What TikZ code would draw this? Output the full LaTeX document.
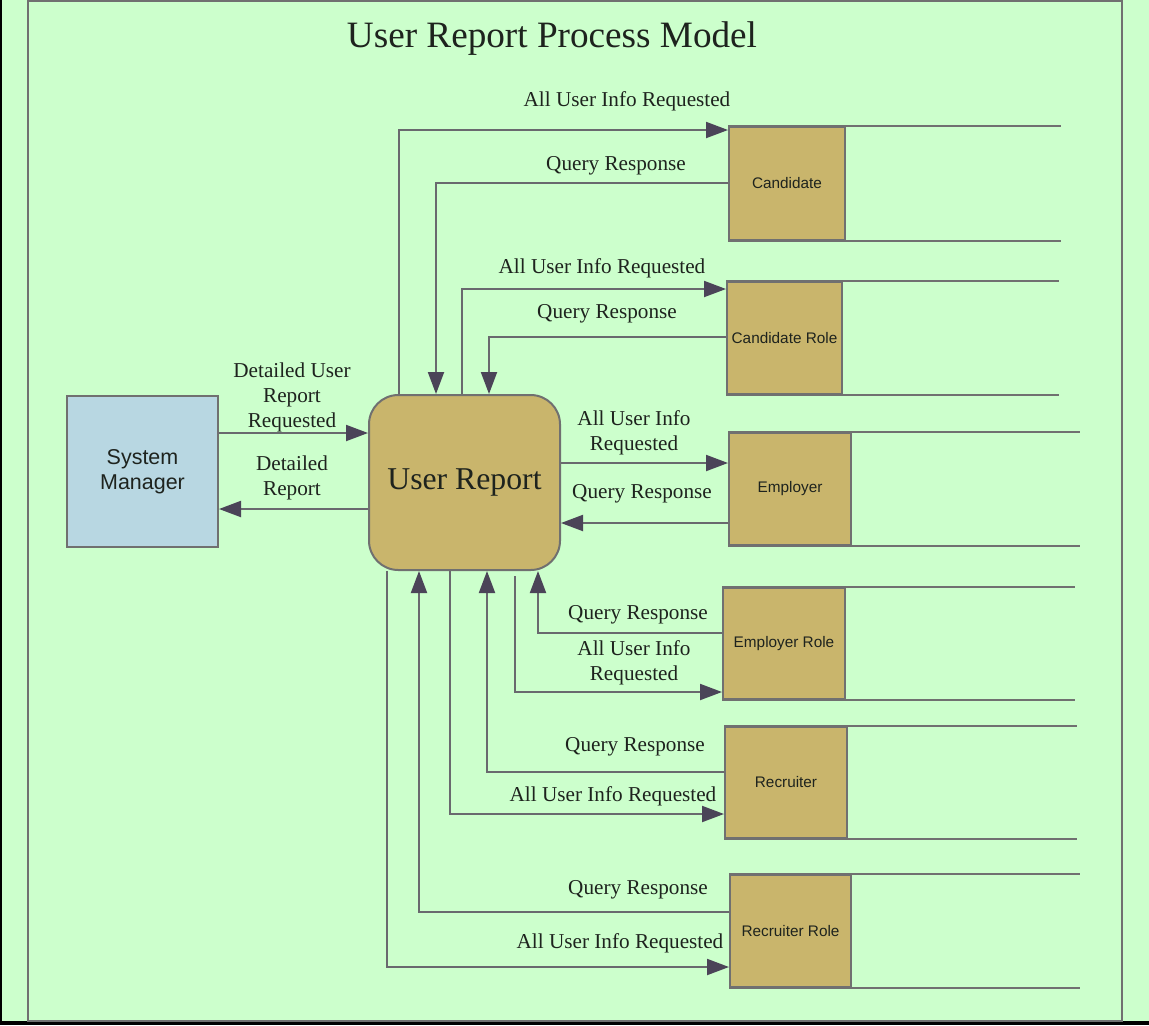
\documentclass[tikz,border=0pt]{standalone}
\usepackage{fontspec}
\setmainfont{Liberation Serif}
\newfontfamily\boxsans{Liberation Sans}
\usetikzlibrary{arrows.meta}
\definecolor{bg}{RGB}{204,255,204}
\definecolor{tanfill}{RGB}{201,181,108}
\definecolor{smblue}{RGB}{184,215,226}
\definecolor{edgec}{RGB}{112,112,112}
\definecolor{linec}{RGB}{105,105,110}
\definecolor{headc}{RGB}{75,68,88}
\definecolor{txt}{RGB}{30,35,30}
\begin{document}
\begin{tikzpicture}[x=0.75pt,y=-0.75pt,
  flow/.style={draw=linec, line width=1.5pt, -{Triangle[length=16.5pt,width=12pt,color=headc]}},
  storebox/.style={draw=edgec, line width=1.5pt, fill=tanfill, inner sep=0pt, text=txt,
     font=\boxsans\fontsize{11.5}{14}\selectfont},
  storeline/.style={draw=edgec, line width=1.5pt},
  lbl/.style={text=txt, align=center, inner sep=0pt, font=\fontsize{15.9}{18.75}\selectfont}
]
\useasboundingbox (0,0) rectangle (1149,1025);
\fill[bg] (0,0) rectangle (1149,1025);
\fill[black] (0,0) rectangle (1.5,1025);
\fill[black] (0,1021) rectangle (1149,1025);
\draw[edgec, line width=1.5pt] (28,0.5) rectangle (1122,1021);

\node[text=txt, inner sep=0pt, font=\fontsize{27.9}{33}\selectfont] (title) at (552,39) {User Report Process Model};

% main process
\node[draw=edgec, line width=1.5pt, fill=tanfill, rounded corners=22pt, minimum width=191*0.75pt, minimum height=175*0.75pt, inner sep=0pt, text=txt, font=\fontsize{23.8}{28}\selectfont] (ur) at (464.5,482.5) {User Report};

% external entity
\node[draw=edgec, line width=1.5pt, fill=smblue, minimum width=151*0.75pt, minimum height=151*0.75pt, inner sep=0pt, align=center, text=txt, font=\boxsans\fontsize{16.1}{19}\selectfont] (sm) at (142.5,471.5) {System\\Manager};

% data stores
\node[storebox, minimum width=116*0.75pt, minimum height=113*0.75pt] (cand) at (787,183.5) {Candidate};
\node[storebox, minimum width=115*0.75pt, minimum height=112*0.75pt] (crole) at (784.5,338) {Candidate Role};
\node[storebox, minimum width=122*0.75pt, minimum height=112*0.75pt] (emp) at (790,489) {Employer};
\node[storebox, minimum width=122*0.75pt, minimum height=111*0.75pt] (erole) at (784,643.5) {Employer Role};
\node[storebox, minimum width=122*0.75pt, minimum height=111*0.75pt] (rec) at (786,782.5) {Recruiter};
\node[storebox, minimum width=121*0.75pt, minimum height=112*0.75pt] (rrole) at (790.5,931) {Recruiter Role};

\draw[storeline] (cand.north west) -- (cand.north west -| 1061,0);
\draw[storeline] (cand.south west) -- (cand.south west -| 1061,0);
\draw[storeline] (crole.north west) -- (crole.north west -| 1059,0);
\draw[storeline] (crole.south west) -- (crole.south west -| 1059,0);
\draw[storeline] (emp.north west) -- (emp.north west -| 1080,0);
\draw[storeline] (emp.south west) -- (emp.south west -| 1080,0);
\draw[storeline] (erole.north west) -- (erole.north west -| 1075,0);
\draw[storeline] (erole.south west) -- (erole.south west -| 1075,0);
\draw[storeline] (rec.north west) -- (rec.north west -| 1077,0);
\draw[storeline] (rec.south west) -- (rec.south west -| 1077,0);
\draw[storeline] (rrole.north west) -- (rrole.north west -| 1080,0);
\draw[storeline] (rrole.south west) -- (rrole.south west -| 1080,0);

% system manager flows
\draw[flow] (sm.east |- 0,433) -- (ur.west |- 0,433);
\draw[flow] (ur.west |- 0,509) -- (sm.east |- 0,509);
\node[lbl] (l1) at (292,397) {Detailed User\\Report\\Requested};
\node[lbl] (l2) at (292,478) {Detailed\\Report};

% candidate
\draw[flow] (ur.north -| 399,0) |- (cand.west |- 0,130);
\draw[flow] (cand.west |- 0,183) -| (ur.north -| 436,0);
\node[lbl] (l3) at (627,101) {All User Info Requested};
\node[lbl] (l4) at (616,166) {Query Response};

% candidate role
\draw[flow] (ur.north -| 462,0) |- (crole.west |- 0,289);
\draw[flow] (crole.west |- 0,337) -| (ur.north -| 489,0);
\node[lbl] (l5) at (602,268) {All User Info Requested};
\node[lbl] (l6) at (607,314) {Query Response};

% employer
\draw[flow] (ur.east |- 0,463) -- (emp.west |- 0,463);
\draw[flow] (emp.west |- 0,523) -- (ur.east |- 0,523);
\node[lbl] (l7) at (634,433) {All User Info\\Requested};
\node[lbl] (l8) at (642,494) {Query Response};

% employer role
\draw[flow] (erole.west |- 0,633) -| (ur.south -| 538,0);
\draw[flow, shorten <=4pt] (ur.south -| 515,0) |- (erole.west |- 0,692);
\node[lbl] (l9) at (638,615) {Query Response};
\node[lbl] (l10) at (634,663) {All User Info\\Requested};

% recruiter
\draw[flow] (rec.west |- 0,772) -| (ur.south -| 487,0);
\draw[flow] (ur.south -| 450,0) |- (rec.west |- 0,814);
\node[lbl] (l11) at (635,747) {Query Response};
\node[lbl] (l12) at (613,796) {All User Info Requested};

% recruiter role
\draw[flow] (rrole.west |- 0,912) -| (ur.south -| 419,0);
\draw[flow] (ur.south -| 387,0) |- (rrole.west |- 0,967);
\node[lbl] (l13) at (638,890) {Query Response};
\node[lbl] (l14) at (620,943) {All User Info Requested};
\end{tikzpicture}
\end{document}
